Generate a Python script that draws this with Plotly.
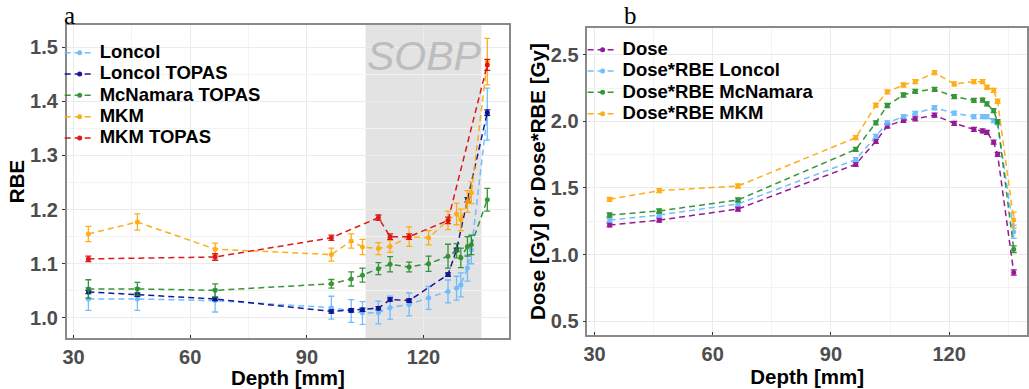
import plotly.graph_objects as go

# ---------------- data: panel a (RBE) ----------------
depth = [33.8, 46.4, 66.4, 96.3, 101.4, 104.3, 108.4, 111.4, 116.3, 121.3,
         126.3, 128.5, 129.6, 131.3, 132.3, 136.4]

rbe_loncol = [1.035, 1.035, 1.032, 1.019, 1.013, 1.009, 1.010, 1.019, 1.025, 1.037,
              1.049, 1.055, 1.061, 1.092, 1.126, 1.376]
rbe_loncol_err = [0.021, 0.021, 0.021, 0.021, 0.021, 0.021, 0.021, 0.021, 0.021, 0.021,
                  0.021, 0.022, 0.022, 0.024, 0.026, 0.048]

depth_loncol_topas = [33.8, 46.4, 66.4, 96.3, 101.4, 104.3, 108.4, 111.4, 116.3,
                      126.3, 128.5, 131.3, 136.4]
rbe_loncol_topas = [1.048, 1.043, 1.035, 1.012, 1.014, 1.015, 1.018, 1.034, 1.032,
                    1.080, 1.126, 1.218, 1.379]
rbe_loncol_topas_err = [0.003, 0.003, 0.003, 0.003, 0.003, 0.003, 0.003, 0.003, 0.003,
                        0.003, 0.003, 0.004, 0.005]

rbe_mcnamara = [1.0535, 1.0535, 1.051, 1.063, 1.072, 1.079, 1.091, 1.099, 1.094, 1.100,
                1.114, 1.124, 1.111, 1.132, 1.135, 1.218]
rbe_mcnamara_err = [0.017, 0.012, 0.012, 0.008, 0.013, 0.013, 0.011, 0.014, 0.009, 0.014,
                    0.022, 0.013, 0.018, 0.018, 0.018, 0.021]

rbe_mkm = [1.155, 1.177, 1.127, 1.117, 1.142, 1.131, 1.128, 1.132, 1.150, 1.148,
           1.180, 1.192, 1.181, 1.215, 1.231, 1.473]
rbe_mkm_err = [0.014, 0.015, 0.011, 0.012, 0.013, 0.014, 0.011, 0.011, 0.018, 0.013,
               0.017, 0.020, 0.020, 0.020, 0.020, 0.043]

depth_mkm_topas = [33.8, 66.4, 96.3, 108.4, 111.4, 116.3, 126.3, 136.4]
rbe_mkm_topas = [1.109, 1.1125, 1.148, 1.185, 1.150, 1.150, 1.180, 1.467]
rbe_mkm_topas_err = [0.005, 0.006, 0.005, 0.005, 0.005, 0.005, 0.006, 0.010]

sobp_range = [105, 135]

# ---------------- data: panel b (dose) ----------------
dose = [1.222, 1.258, 1.342, 1.678, 1.850, 1.966, 2.008, 2.020, 2.047, 1.986,
        1.941, 1.929, 1.918, 1.844, 1.753, 0.865]
dose_loncol = [1.259, 1.297, 1.380, 1.713, 1.888, 1.990, 2.036, 2.061, 2.103, 2.062,
               2.036, 2.036, 2.036, 2.006, 1.990, 1.171]
dose_mcnamara = [1.297, 1.327, 1.410, 1.790, 1.990, 2.120, 2.199, 2.226, 2.241, 2.187,
                 2.158, 2.161, 2.132, 2.081, 1.999, 1.040]
dose_mkm = [1.415, 1.480, 1.515, 1.878, 2.122, 2.222, 2.274, 2.299, 2.367, 2.282,
            2.299, 2.299, 2.257, 2.234, 2.152, 1.259]
dose_err = [0.015] * 15 + [0.02]
dose_loncol_err = [0.015] * 15 + [0.05]
dose_mcnamara_err = [0.015] * 15 + [0.025]
dose_mkm_err = [0.015] * 15 + [0.06]

labels_a = ["Loncol", "Loncol TOPAS", "McNamara TOPAS", "MKM", "MKM TOPAS"]
labels_b = ["Dose", "Dose*RBE Loncol", "Dose*RBE McNamara", "Dose*RBE MKM"]

C_LIGHT = "#63B8FF"
C_NAVY = "#00008B"
C_GREEN = "#228B22"
C_ORANGE = "#FFA500"
C_RED = "#DD0000"
C_PURPLE = "#8B008B"

FONT = "Liberation Sans"


def leg_name(s):
    return "<span style='font-size:18.5px'>" + s + "</span>"


def series(x, y, err, color, name, xa, ya, legend):
    return go.Scatter(
        x=x, y=y, mode="lines+markers", name=leg_name(name),
        xaxis=xa, yaxis=ya, legend=legend,
        line=dict(color=color, width=1.5, dash="6px,4px"),
        marker=dict(color=color, size=5, symbol="circle"),
        error_y=dict(type="data", array=err, visible=True, color=color,
                     thickness=1.3, width=3),
        opacity=0.9,
    )


fig = go.Figure()

fig.add_trace(series(depth, rbe_loncol, rbe_loncol_err, C_LIGHT, labels_a[0], "x", "y", "legend"))
fig.add_trace(series(depth_loncol_topas, rbe_loncol_topas, rbe_loncol_topas_err, C_NAVY, labels_a[1], "x", "y", "legend"))
fig.add_trace(series(depth, rbe_mcnamara, rbe_mcnamara_err, C_GREEN, labels_a[2], "x", "y", "legend"))
fig.add_trace(series(depth, rbe_mkm, rbe_mkm_err, C_ORANGE, labels_a[3], "x", "y", "legend"))
fig.add_trace(series(depth_mkm_topas, rbe_mkm_topas, rbe_mkm_topas_err, C_RED, labels_a[4], "x", "y", "legend"))

fig.add_trace(series(depth, dose, dose_err, C_PURPLE, labels_b[0], "x2", "y2", "legend2"))
fig.add_trace(series(depth, dose_loncol, dose_loncol_err, C_LIGHT, labels_b[1], "x2", "y2", "legend2"))
fig.add_trace(series(depth, dose_mcnamara, dose_mcnamara_err, C_GREEN, labels_b[2], "x2", "y2", "legend2"))
fig.add_trace(series(depth, dose_mkm, dose_mkm_err, C_ORANGE, labels_b[3], "x2", "y2", "legend2"))

fig.add_shape(type="rect", xref="x", yref="y domain", x0=sobp_range[0], x1=sobp_range[1],
              y0=0, y1=1, fillcolor="#E3E3E3", line=dict(width=0), layer="below")

axis_common = dict(
    showline=True, mirror=True, linecolor="#8A8A8A", linewidth=1.5,
    showgrid=True, gridcolor="#EBEBEB", gridwidth=1,
    ticklen=3, tickcolor="#333333", tickwidth=1,
    tickfont=dict(family=FONT, size=20, color="#4D4D4D", weight="bold"),
    zeroline=False,
)
title_font = dict(family=FONT, size=20.5, color="black", weight="bold")
legend_font = dict(family=FONT, size=14.1, color="black", weight="bold")

fig.update_layout(
    width=1029, height=389,
    margin=dict(l=0, r=0, t=0, b=0),
    paper_bgcolor="white", plot_bgcolor="white",
    showlegend=True,
    xaxis=dict(domain=[0.0612, 0.4937], range=[28.2, 142.0], tick0=30, dtick=30,
               ticks="inside",
               minor=dict(tick0=30, dtick=15, showgrid=True, gridcolor="#F3F3F3", ticks=""),
               title=dict(text="Depth [mm]", font=title_font, standoff=2),
               anchor="y", **axis_common),
    yaxis=dict(domain=[0.1311, 0.9357], range=[0.963, 1.5406], tick0=1.0, dtick=0.1,
               tickformat=".1f", ticks="outside",
               minor=dict(tick0=1.0, dtick=0.05, showgrid=True, gridcolor="#F3F3F3", ticks=""),
               title=dict(text="RBE", font=title_font, standoff=0),
               anchor="x", **axis_common),
    xaxis2=dict(domain=[0.5702, 1.0], range=[28.16, 139.77], tick0=30, dtick=30,
                ticks="inside",
                minor=dict(tick0=30, dtick=15, showgrid=True, gridcolor="#F3F3F3", ticks=""),
                title=dict(text="Depth [mm]", font=title_font, standoff=2),
                anchor="y2", **axis_common),
    yaxis2=dict(domain=[0.1388, 0.9272], range=[0.395, 2.70], tick0=0.5, dtick=0.5,
                tickformat=".1f", ticks="outside",
                minor=dict(tick0=0.5, dtick=0.25, showgrid=True, gridcolor="#F3F3F3", ticks=""),
                title=dict(text="Dose [Gy] or Dose*RBE [Gy]", font=title_font, standoff=0),
                anchor="x2", **axis_common),
    legend=dict(x=56 / 1029, y=1 - 37 / 389, xanchor="left", yanchor="top",
                bgcolor="rgba(255,255,255,0)", borderwidth=0, itemwidth=30,
                font=legend_font),
    legend2=dict(x=582 / 1029, y=1 - 34 / 389, xanchor="left", yanchor="top",
                 bgcolor="rgba(255,255,255,0)", borderwidth=0, itemwidth=30,
                 font=legend_font),
    annotations=[
        dict(text="a", xref="paper", yref="paper", x=66 / 1029, y=1 - 16 / 389,
             showarrow=False, xanchor="center", yanchor="middle",
             font=dict(family="Liberation Serif", size=25, color="black")),
        dict(text="b", xref="paper", yref="paper", x=630 / 1029, y=1 - 15 / 389,
             showarrow=False, xanchor="center", yanchor="middle",
             font=dict(family="Liberation Serif", size=25, color="black")),
        dict(text="SOBP", xref="x", yref="y", x=120.3, y=1.484,
             showarrow=False, xanchor="center", yanchor="middle",
             font=dict(family=FONT, size=41, color="#BDBDBD", style="italic")),
    ],
)

fig.write_html("out.html")
